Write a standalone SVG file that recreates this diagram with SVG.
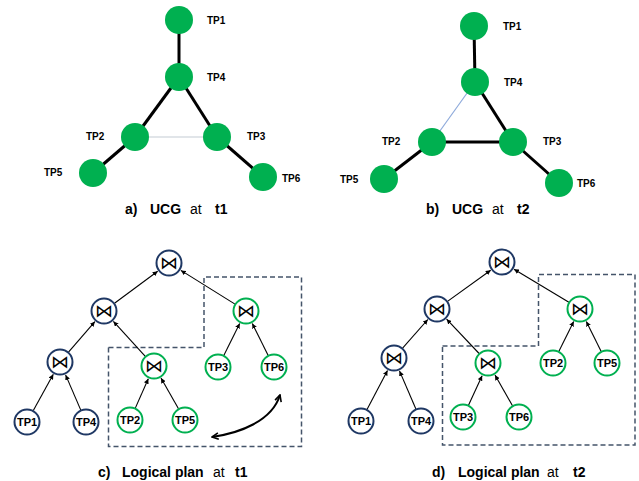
<svg xmlns="http://www.w3.org/2000/svg" width="639" height="481" viewBox="0 0 639 481">
<defs>
<style>
.g{fill:#00b050}
.e{stroke:#000;stroke-width:3;fill:none}
.lbl{font-family:"Liberation Sans",Arial,sans-serif;font-weight:bold;font-size:10px;fill:#000}
.cap{font-family:"Liberation Sans",Arial,sans-serif;font-size:14px;fill:#000}
.b{font-weight:bold}
.nb{fill:#fff;stroke:#1f3864;stroke-width:2}
.ng{fill:#fff;stroke:#00b050;stroke-width:2}
.nt{font-family:"Liberation Sans",Arial,sans-serif;font-weight:bold;font-size:11px;fill:#000;text-anchor:middle}
.j{font-family:"DejaVu Sans",sans-serif;font-size:18px;fill:#000;text-anchor:middle}
.a{stroke:#000;stroke-width:1.1;fill:none;marker-end:url(#ah)}
.box{fill:none;stroke:#44546a;stroke-width:1.5;stroke-dasharray:5 3}
</style>
<marker id="ah" viewBox="0 0 10 10" refX="10" refY="5" markerWidth="5" markerHeight="5" orient="auto" markerUnits="userSpaceOnUse">
<path d="M0,0 L10,5 L0,10 z" fill="#000"/>
</marker>
<marker id="ch" viewBox="0 0 10 10" refX="9" refY="5" markerWidth="8" markerHeight="8" orient="auto-start-reverse" markerUnits="userSpaceOnUse">
<path d="M1,1 L9,5 L1,9" fill="none" stroke="#000" stroke-width="2"/>
</marker>
</defs>

<!-- Panel a -->
<g id="edges-a">
<line class="e" x1="179" y1="20" x2="179" y2="77"/>
<line class="e" x1="179" y1="77" x2="135" y2="137"/>
<line class="e" x1="179" y1="77" x2="217" y2="137"/>
<line x1="135" y1="137" x2="217" y2="137" stroke="#c3cbd3" stroke-width="1.2"/>
<line class="e" x1="135" y1="137" x2="93" y2="173"/>
<line class="e" x1="217" y1="137" x2="263" y2="177"/>
</g>
<g id="a-TP1"><circle class="g" cx="179" cy="20" r="14"/><text class="lbl" x="207" y="24">TP1</text></g>
<g id="a-TP4"><circle class="g" cx="179" cy="77" r="14"/><text class="lbl" x="207" y="81">TP4</text></g>
<g id="a-TP2"><circle class="g" cx="135" cy="137" r="14"/><text class="lbl" x="86" y="140">TP2</text></g>
<g id="a-TP3"><circle class="g" cx="217" cy="137" r="14"/><text class="lbl" x="247" y="140">TP3</text></g>
<g id="a-TP5"><circle class="g" cx="93" cy="173" r="14"/><text class="lbl" x="44" y="176">TP5</text></g>
<g id="a-TP6"><circle class="g" cx="263" cy="177" r="14"/><text class="lbl" x="282" y="182">TP6</text></g>
<text class="cap" y="214"><tspan class="b" x="125">a)</tspan><tspan class="b" x="150">UCG</tspan><tspan x="190">at</tspan><tspan class="b" x="215">t1</tspan></text>

<!-- Panel b -->
<g id="edges-b">
<line class="e" x1="474" y1="26" x2="475" y2="82"/>
<line x1="475" y1="82" x2="432" y2="142" stroke="#8eaadb" stroke-width="1.2"/>
<line class="e" x1="475" y1="82" x2="513" y2="142"/>
<line class="e" x1="432" y1="142" x2="513" y2="142"/>
<line class="e" x1="432" y1="142" x2="384" y2="179"/>
<line class="e" x1="513" y1="142" x2="559" y2="183"/>
</g>
<g id="b-TP1"><circle class="g" cx="474" cy="26" r="14"/><text class="lbl" x="503" y="30">TP1</text></g>
<g id="b-TP4"><circle class="g" cx="475" cy="82" r="14"/><text class="lbl" x="504" y="86">TP4</text></g>
<g id="b-TP2"><circle class="g" cx="432" cy="142" r="14"/><text class="lbl" x="382" y="145">TP2</text></g>
<g id="b-TP3"><circle class="g" cx="513" cy="142" r="14"/><text class="lbl" x="543" y="145">TP3</text></g>
<g id="b-TP5"><circle class="g" cx="384" cy="179" r="14"/><text class="lbl" x="340" y="183">TP5</text></g>
<g id="b-TP6"><circle class="g" cx="559" cy="183" r="14"/><text class="lbl" x="577" y="187">TP6</text></g>
<text class="cap" y="214"><tspan class="b" x="426">b)</tspan><tspan class="b" x="452">UCG</tspan><tspan x="492">at</tspan><tspan class="b" x="517">t2</tspan></text>

<!-- Panel c -->
<polyline class="box" points="108.5,347.5 204,347.5 204,277 301.5,277 301.5,446.5 108.5,446.5 108.5,347.5"/>
<g id="connectors-c">
<line class="a" x1="114.5" y1="303.3" x2="157.7" y2="271.3"/>
<line class="a" x1="235" y1="304.1" x2="180.9" y2="270.4"/>
<line class="a" x1="68.5" y1="352.2" x2="94.9" y2="321.6"/>
<line class="a" x1="145.3" y1="356.4" x2="113.4" y2="321.4"/>
<line class="a" x1="223.8" y1="355.4" x2="239.7" y2="323.5"/>
<line class="a" x1="268.2" y1="355.4" x2="252.3" y2="323.5"/>
<line class="a" x1="33.3" y1="410.6" x2="53.3" y2="374.3"/>
<line class="a" x1="80.8" y1="410.1" x2="65.6" y2="374.9"/>
<line class="a" x1="135.3" y1="408.1" x2="148.3" y2="378.8"/>
<line class="a" x1="178.5" y1="408.7" x2="161" y2="378.1"/>
<path d="M212,437 C240,433 272,421 280,395" fill="none" stroke="#000" stroke-width="2" marker-start="url(#ch)" marker-end="url(#ch)"/>
</g>
<g id="c-root"><circle class="nb" cx="169" cy="263" r="12.5"/><text class="j" x="169" y="269">⋈</text></g>
<g id="c-j2"><circle class="nb" cx="104" cy="311" r="12.5"/><text class="j" x="104" y="317">⋈</text></g>
<g id="c-j3"><circle class="ng" cx="246" cy="311" r="12.5"/><text class="j" x="246" y="317">⋈</text></g>
<g id="c-j4"><circle class="nb" cx="60" cy="362" r="12.5"/><text class="j" x="60" y="368">⋈</text></g>
<g id="c-j5"><circle class="ng" cx="154" cy="366" r="12.5"/><text class="j" x="154" y="372">⋈</text></g>
<g id="c-TP3"><circle class="ng" cx="218" cy="367" r="12.5"/><text class="nt" x="218" y="371">TP3</text></g>
<g id="c-TP6"><circle class="ng" cx="274" cy="367" r="12.5"/><text class="nt" x="274" y="371">TP6</text></g>
<g id="c-TP1"><circle class="nb" cx="27" cy="422" r="12.5"/><text class="nt" x="27" y="426">TP1</text></g>
<g id="c-TP4"><circle class="nb" cx="86" cy="422" r="12.5"/><text class="nt" x="86" y="426">TP4</text></g>
<g id="c-TP2"><circle class="ng" cx="130" cy="420" r="12.5"/><text class="nt" x="130" y="424">TP2</text></g>
<g id="c-TP5"><circle class="ng" cx="185" cy="420" r="12.5"/><text class="nt" x="185" y="424">TP5</text></g>
<text class="cap" y="477"><tspan class="b" x="98">c)</tspan><tspan class="b" x="122">Logical plan</tspan><tspan x="213">at</tspan><tspan class="b" x="235">t1</tspan></text>

<!-- Panel d -->
<polyline class="box" points="442.5,346 538.5,346 538.5,274.5 635,274.5 635,445 442.5,445 442.5,346"/>
<g id="connectors-d">
<line class="a" x1="447.5" y1="301.4" x2="490.7" y2="270.2"/>
<line class="a" x1="568.9" y1="302.3" x2="514" y2="269.2"/>
<line class="a" x1="402.6" y1="348.2" x2="427.8" y2="319.5"/>
<line class="a" x1="479.1" y1="353.5" x2="446.6" y2="319.2"/>
<line class="a" x1="558.8" y1="351.4" x2="573.7" y2="321.5"/>
<line class="a" x1="601.2" y1="351.4" x2="586.3" y2="321.5"/>
<line class="a" x1="367" y1="409.5" x2="387.5" y2="370.4"/>
<line class="a" x1="415.9" y1="409" x2="399.5" y2="370.9"/>
<line class="a" x1="468.5" y1="405.2" x2="482.1" y2="375.7"/>
<line class="a" x1="512.5" y1="405.7" x2="495" y2="375.1"/>
</g>
<g id="d-root"><circle class="nb" cx="502" cy="262" r="12.5"/><text class="j" x="502" y="268">⋈</text></g>
<g id="d-j2"><circle class="nb" cx="437" cy="309" r="12.5"/><text class="j" x="437" y="315">⋈</text></g>
<g id="d-j3"><circle class="ng" cx="580" cy="309" r="12.5"/><text class="j" x="580" y="315">⋈</text></g>
<g id="d-j4"><circle class="nb" cx="394" cy="358" r="12.5"/><text class="j" x="394" y="364">⋈</text></g>
<g id="d-j5"><circle class="ng" cx="488" cy="363" r="12.5"/><text class="j" x="488" y="369">⋈</text></g>
<g id="d-TP2"><circle class="ng" cx="553" cy="363" r="12.5"/><text class="nt" x="553" y="367">TP2</text></g>
<g id="d-TP5"><circle class="ng" cx="607" cy="363" r="12.5"/><text class="nt" x="607" y="367">TP5</text></g>
<g id="d-TP1"><circle class="nb" cx="361" cy="421" r="12.5"/><text class="nt" x="361" y="425">TP1</text></g>
<g id="d-TP4"><circle class="nb" cx="421" cy="421" r="12.5"/><text class="nt" x="421" y="425">TP4</text></g>
<g id="d-TP3"><circle class="ng" cx="463" cy="417" r="12.5"/><text class="nt" x="463" y="421">TP3</text></g>
<g id="d-TP6"><circle class="ng" cx="519" cy="417" r="12.5"/><text class="nt" x="519" y="421">TP6</text></g>
<text class="cap" y="477"><tspan class="b" x="432">d)</tspan><tspan class="b" x="458">Logical plan</tspan><tspan x="547">at</tspan><tspan class="b" x="573">t2</tspan></text>
</svg>
